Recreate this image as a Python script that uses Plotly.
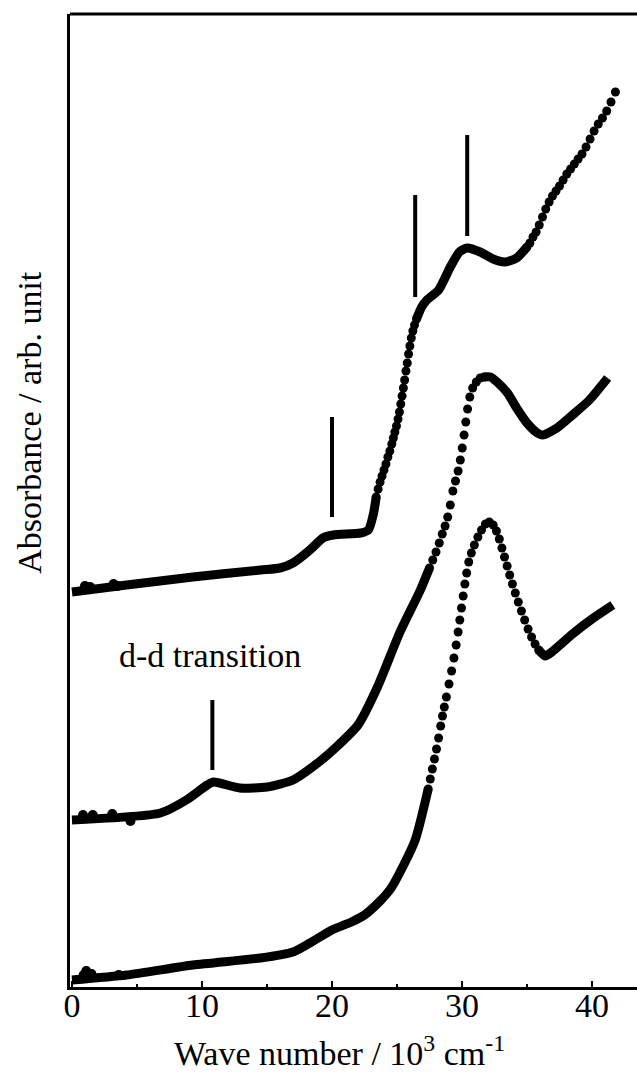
import plotly.graph_objects as go

# Wave number axis in units of 10^3 cm^-1; absorbance in arbitrary units,
# the three spectra are vertically offset for clarity.
# Where a spectrum climbs steeply the individual data points stand apart,
# so those stretches are drawn as dots; elsewhere they merge into a line.

# ---- upper spectrum ----
top_line_x = [0.0, 4.2, 9.3, 14.5, 16.0, 17.0, 18.3, 19.3, 20.1, 22.2, 22.8, 23.2, 23.4,
              None,
              26.5, 26.9, 27.3, 28.2, 29.1, 29.8, 30.4, 31.4, 32.4, 33.3, 34.2, 35.0]
top_line_y = [3.95, 4.02, 4.10, 4.17, 4.19, 4.24, 4.37, 4.49, 4.52, 4.54, 4.57, 4.74, 4.90,
              None,
              6.68, 6.80, 6.87, 6.97, 7.20, 7.35, 7.39, 7.35, 7.28, 7.25, 7.29, 7.40]
top_dot_x = [23.4, 23.55, 23.7, 23.85, 24.0, 24.15, 24.3, 24.45, 24.6, 24.72, 24.84,
             24.96, 25.08, 25.19, 25.29, 25.39, 25.49, 25.59, 25.69, 25.79, 25.89,
             25.99, 26.1, 26.22, 26.35, 26.5,
             35.0, 35.22, 35.46, 35.7, 35.94, 36.19, 36.44, 36.7, 36.96, 37.23, 37.5,
             37.78, 38.06, 38.35, 38.64, 38.93, 39.23, 39.54, 39.85, 40.16, 40.48,
             40.8, 41.13, 41.46, 41.8]
top_dot_y = [4.90, 4.98, 5.05, 5.11, 5.17, 5.23, 5.30, 5.36, 5.43, 5.49, 5.55,
             5.61, 5.68, 5.75, 5.83, 5.91, 5.99, 6.07, 6.16, 6.24, 6.33,
             6.41, 6.49, 6.56, 6.62, 6.68,
             7.40, 7.44, 7.50, 7.55, 7.62, 7.70, 7.78, 7.85, 7.91, 7.96, 8.01,
             8.07, 8.13, 8.18, 8.23, 8.28, 8.33, 8.40, 8.48, 8.56, 8.63,
             8.69, 8.76, 8.85, 8.95]
top_noise_x = [1.0, 1.4, 3.2, 3.5]
top_noise_y = [4.01, 4.00, 4.03, 4.01]

# ---- middle spectrum ----
mid_line_x = [0.0, 6.8, 8.8, 10.4, 10.9, 12.9, 15.0, 17.0, 19.0, 20.5, 22.0, 23.5,
              25.2, 26.8, 27.5,
              None,
              31.7, 32.2, 32.7, 33.5, 34.2, 35.0, 35.8, 36.2, 37.3, 38.5, 39.8, 41.2]
mid_line_y = [1.67, 1.74, 1.87, 2.02, 2.05, 1.99, 2.00, 2.07, 2.25, 2.42, 2.62, 3.00,
              3.54, 3.97, 4.19,
              None,
              6.10, 6.10, 6.05, 5.94, 5.79, 5.64, 5.54, 5.52, 5.59, 5.72, 5.87, 6.09]
mid_dot_x = [27.5, 27.75, 28.0, 28.25, 28.48, 28.7, 28.9, 29.1, 29.3, 29.5, 29.7,
             29.87, 30.02, 30.16, 30.29, 30.43, 30.6, 30.82, 31.1, 31.4, 31.7]
mid_dot_y = [4.19, 4.27, 4.35, 4.44, 4.53, 4.61, 4.70, 4.82, 4.96, 5.06, 5.16,
             5.27, 5.39, 5.52, 5.65, 5.78, 5.90, 5.99, 6.05, 6.09, 6.10]
mid_noise_x = [0.85, 1.6, 3.1, 4.5]
mid_noise_y = [1.72, 1.72, 1.73, 1.66]

# ---- lower spectrum ----
bot_line_x = [0.0, 4.2, 9.3, 14.5, 17.0, 18.3, 20.0, 21.5, 22.5, 23.7, 24.5, 25.2,
              26.4, 27.4,
              None,
              35.9, 36.4, 37.0, 38.5, 40.0, 41.6]
bot_line_y = [0.07, 0.12, 0.22, 0.29, 0.35, 0.44, 0.57, 0.65, 0.72, 0.86, 0.98, 1.14,
              1.47, 1.98,
              None,
              3.37, 3.31, 3.36, 3.53, 3.68, 3.82]
bot_dot_x = [27.4, 27.56, 27.72, 27.88, 28.04, 28.2, 28.36, 28.5, 28.64, 28.8, 29.0,
             29.2, 29.38, 29.55, 29.7, 29.83, 29.96, 30.09, 30.22,
             30.36, 30.52, 30.72, 30.95, 31.22, 31.5, 31.8, 32.1, 32.4, 32.65, 32.87,
             33.07, 33.27, 33.47, 33.67, 33.88, 34.1, 34.33, 34.57, 34.82, 35.08,
             35.35, 35.62, 35.9]
bot_dot_y = [1.98, 2.08, 2.18, 2.28, 2.38, 2.49, 2.61, 2.71, 2.80, 2.90, 3.03,
             3.16, 3.29, 3.42, 3.55, 3.67, 3.79, 3.91, 4.03,
             4.14, 4.25, 4.34, 4.42, 4.50, 4.57, 4.63, 4.65, 4.62, 4.56, 4.48,
             4.39, 4.30, 4.21, 4.12, 4.03, 3.94, 3.85, 3.76, 3.67, 3.58,
             3.50, 3.43, 3.37]
bot_noise_x = [0.9, 1.1, 1.5, 3.6]
bot_noise_y = [0.12, 0.16, 0.13, 0.12]

# Band position markers: wave number, lower and upper end of each bar
band_x = [20.0, 26.4, 30.4, 10.8]
band_y0 = [4.70, 6.90, 7.51, 2.17]
band_y1 = [5.70, 7.92, 8.52, 2.87]

SERIF = "Liberation Serif, Times New Roman, serif"

fig = go.Figure()
spectra = [
    (top_line_x, top_line_y, top_dot_x, top_dot_y, top_noise_x, top_noise_y),
    (mid_line_x, mid_line_y, mid_dot_x, mid_dot_y, mid_noise_x, mid_noise_y),
    (bot_line_x, bot_line_y, bot_dot_x, bot_dot_y, bot_noise_x, bot_noise_y),
]
for lx, ly, dx, dy, nx, ny in spectra:
    fig.add_trace(go.Scatter(
        x=lx, y=ly, mode="lines", connectgaps=False,
        line=dict(color="black", width=9, shape="spline", smoothing=0.6),
        showlegend=False, hoverinfo="skip"))
    fig.add_trace(go.Scatter(
        x=dx, y=dy, mode="markers",
        marker=dict(color="black", size=9, line=dict(width=0)),
        showlegend=False, hoverinfo="skip"))
    fig.add_trace(go.Scatter(
        x=nx, y=ny, mode="markers",
        marker=dict(color="black", size=10, line=dict(width=0)),
        showlegend=False, hoverinfo="skip"))

for bx, y0, y1 in zip(band_x, band_y0, band_y1):
    fig.add_shape(type="line", x0=bx, x1=bx, y0=y0, y1=y1,
                  xref="x", yref="y", line=dict(color="black", width=4))

# frame line along the top of the plot area
fig.add_shape(type="line", x0=0, x1=1, y0=1, y1=1, xref="paper", yref="paper",
              line=dict(color="black", width=3))

fig.add_annotation(x=10.6, y=3.32, xref="x", yref="y", text="d-d transition",
                   showarrow=False, font=dict(family=SERIF, size=34, color="black"))

fig.add_annotation(x=-0.072, y=0.58, xref="paper", yref="paper",
                   xanchor="center", yanchor="middle",
                   text="Absorbance / arb. unit", textangle=-90, showarrow=False,
                   font=dict(family=SERIF, size=34, color="black"))

fig.add_annotation(x=0.475, y=-0.066, xref="paper", yref="paper",
                   xanchor="center", yanchor="middle",
                   text="Wave number / 10<sup>3</sup> cm<sup>-1</sup>", showarrow=False,
                   font=dict(family=SERIF, size=34, color="black"))

fig.update_layout(
    width=637, height=1072,
    margin=dict(l=70, r=0, t=14, b=85),
    paper_bgcolor="white", plot_bgcolor="white",
    font=dict(family=SERIF, size=34, color="black"),
    xaxis=dict(range=[-0.15, 43.46], tickvals=[0, 10, 20, 30, 40],
               ticks="inside", ticklen=6, tickwidth=2, tickcolor="black",
               tickfont=dict(family=SERIF, size=34, color="black"),
               ticklabelstandoff=-14,
               minor=dict(tickvals=[5, 15, 25, 35], ticks="inside", ticklen=3,
                          tickwidth=2, tickcolor="black"),
               showline=True, linecolor="black", linewidth=3, showgrid=False,
               zeroline=False),
    yaxis=dict(range=[0, 9.73], showticklabels=False, ticks="",
               showline=True, linecolor="black", linewidth=3, showgrid=False,
               zeroline=False),
)

fig.write_html("out.html")
